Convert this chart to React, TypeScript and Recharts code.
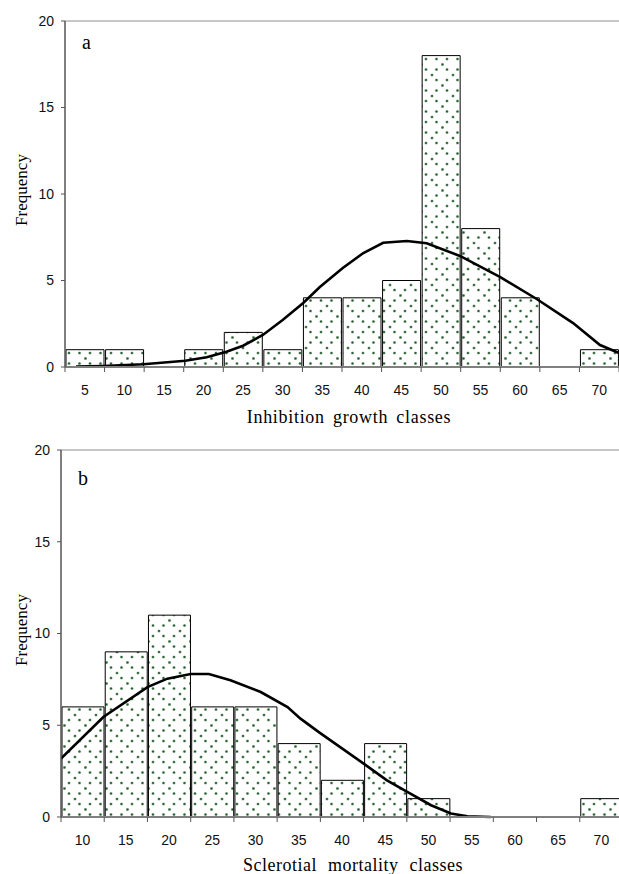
import React from 'react';
import { ComposedChart, Bar, Line, XAxis, YAxis, ReferenceLine } from 'recharts';

// ---- Panel a: Inhibition growth classes ----
const classesA = [5, 10, 15, 20, 25, 30, 35, 40, 45, 50, 55, 60, 65, 70];
const freqA = [1, 1, 0, 1, 2, 1, 4, 4, 5, 18, 8, 4, 0, 1];
const fitXA = [3.9, 7.3, 12.4, 17.7, 20.4, 22.9, 25, 27.5, 30, 32.6, 34.7, 37.6, 40.2, 42.7, 45.7, 48.2, 52.4, 57.5, 62.1, 66.7, 70.1, 72.5];
const fitYA = [0.02, 0.06, 0.16, 0.36, 0.56, 0.88, 1.23, 1.85, 2.72, 3.7, 4.62, 5.72, 6.59, 7.18, 7.28, 7.15, 6.42, 5.2, 3.93, 2.54, 1.27, 0.81];

// ---- Panel b: Sclerotial mortality classes ----
const classesB = [10, 15, 20, 25, 30, 35, 40, 45, 50, 55, 60, 65, 70];
const freqB = [6, 9, 11, 6, 6, 4, 2, 4, 1, 0, 0, 0, 1];
const fitXB = [7.5, 12.4, 17.5, 19.8, 22.5, 24.6, 27.1, 30.6, 33.7, 35.2, 37.4, 42.5, 45.2, 47.6, 50.3, 52.6, 54.5, 57.2];
const fitYB = [3.18, 5.45, 7.08, 7.54, 7.79, 7.79, 7.45, 6.81, 5.99, 5.36, 4.6, 2.91, 2.0, 1.36, 0.64, 0.19, 0.04, 0];

const yTicks = [0, 5, 10, 15, 20];

const SANS = '"Liberation Sans", Arial, Helvetica, sans-serif';
const SERIF = '"Liberation Serif", "Times New Roman", Times, serif';

const DOTS: [number, number][] = [
  [1.5, 1.5],
  [12, 12],
  [6, 6.5],
  [16.5, 6.5],
  [6, 17],
  [16.5, 17],
];

type HistProps = {
  id: string;
  classes: number[];
  freq: number[];
  fitX: number[];
  fitY: number[];
  width: number;
  height: number;
  top: number;
  yAxisWidth: number;
  xAxisHeight: number;
  barSize: number;
  panel: string;
  panelX: number;
  panelY: number;
  xTitle: string;
  xTitleX: number;
  xTitleY: number;
  xTitleSpacing: number;
  xTitleWordSpacing: number;
  yTitleY: number;
};

function Histogram(p: HistProps) {
  const step = p.classes[1] - p.classes[0];
  const bars = p.classes.map((c, i) => ({ cls: c, freq: p.freq[i] }));
  const fit = p.fitX.map((x, i) => ({ cls: x, v: p.fitY[i] }));
  const domain: [number, number] = [p.classes[0] - step / 2, p.classes[p.classes.length - 1] + step / 2];
  const ticks: number[] = [];
  p.classes.forEach((c) => ticks.push(c - step / 2, c));
  ticks.push(domain[1]);

  const XTick = (tp: any) => {
    const v = tp.payload.value;
    if (p.classes.includes(v)) {
      return (
        <text x={tp.x} y={tp.y + 28} textAnchor="middle" fontSize={14} fontFamily={SANS} fill="#111">
          {v}
        </text>
      );
    }
    return <line x1={tp.x} x2={tp.x} y1={tp.y} y2={tp.y + 5} stroke="#555" strokeWidth={1} />;
  };

  return (
    <ComposedChart
      width={p.width}
      height={p.height}
      data={bars}
      margin={{ top: p.top, right: 0, bottom: 0, left: 0 }}
    >
      <defs>
        <pattern id={p.id} x={0} y={0} width={21} height={21} patternUnits="userSpaceOnUse">
          <rect x={0} y={0} width={21} height={21} fill="#ffffff" />
          {DOTS.map(([cx, cy], i) => (
            <g key={i}>
              <circle cx={cx} cy={cy} r={1.6} fill="#9dbb9f" />
              <circle cx={cx} cy={cy} r={1.05} fill="#245c2e" />
            </g>
          ))}
        </pattern>
      </defs>
      <XAxis
        xAxisId="bars"
        type="number"
        dataKey="cls"
        domain={domain}
        ticks={ticks}
        interval={0}
        allowDataOverflow
        height={p.xAxisHeight}
        tickSize={0}
        tickMargin={0}
        tickLine={false}
        tick={XTick}
        axisLine={{ stroke: '#808080', strokeWidth: 2 }}
      />
      <XAxis xAxisId="fit" type="number" dataKey="cls" domain={domain} allowDataOverflow hide />
      <YAxis
        type="number"
        domain={[0, 20]}
        ticks={yTicks}
        interval={0}
        width={p.yAxisWidth}
        tickSize={4}
        tickMargin={7}
        tick={{ fontSize: 14, fill: '#111', fontFamily: SANS }}
        tickLine={{ stroke: '#555' }}
        axisLine={{ stroke: '#555', strokeWidth: 1.5 }}
      />
      <ReferenceLine xAxisId="bars" y={20} stroke="#b5b5b5" strokeWidth={1.5} />
      <Bar
        xAxisId="bars"
        dataKey="freq"
        barSize={p.barSize}
        fill={`url(#${p.id})`}
        stroke="#000"
        strokeWidth={1}
        isAnimationActive={false}
      />
      <Line
        xAxisId="fit"
        data={fit}
        dataKey="v"
        type="linear"
        stroke="#000"
        strokeWidth={2.6}
        dot={false}
        activeDot={false}
        isAnimationActive={false}
      />
      <text x={p.panelX} y={p.panelY} fontSize={20} fontFamily={SERIF} fill="#000">
        {p.panel}
      </text>
      <text
        x={p.xTitleX}
        y={p.xTitleY}
        textAnchor="middle"
        fontSize={18}
        fontFamily={SERIF}
        fill="#000"
        letterSpacing={p.xTitleSpacing}
        wordSpacing={p.xTitleWordSpacing}
      >
        {p.xTitle}
      </text>
      <text
        x={21}
        y={p.yTitleY}
        textAnchor="middle"
        dominantBaseline="central"
        fontSize={17}
        fontFamily={SERIF}
        fill="#000"
        transform={`rotate(-90, 21, ${p.yTitleY})`}
      >
        Frequency
      </text>
    </ComposedChart>
  );
}

export default function App() {
  return (
    <div
      style={{
        position: 'absolute',
        left: 0,
        top: 0,
        width: 619,
        height: 874,
        overflow: 'hidden',
        background: '#fff',
      }}
    >
      <div style={{ position: 'absolute', left: 0, top: 0 }}>
        <Histogram
          id="dotsA"
          classes={classesA}
          freq={freqA}
          fitX={fitXA}
          fitY={fitYA}
          width={619}
          height={430}
          top={21}
          yAxisWidth={65}
          xAxisHeight={63}
          barSize={38}
          panel="a"
          panelX={82}
          panelY={49}
          xTitle="Inhibition growth classes"
          xTitleX={349}
          xTitleY={423}
          xTitleSpacing={0.7}
          xTitleWordSpacing={3}
          yTitleY={190}
        />
      </div>
      <div style={{ position: 'absolute', left: 0, top: 430 }}>
        <Histogram
          id="dotsB"
          classes={classesB}
          freq={freqB}
          fitX={fitXB}
          fitY={fitYB}
          width={623}
          height={444}
          top={20}
          yAxisWidth={61}
          xAxisHeight={57}
          barSize={42}
          panel="b"
          panelX={78}
          panelY={55}
          xTitle="Sclerotial mortality classes"
          xTitleX={353}
          xTitleY={441}
          xTitleSpacing={0.5}
          xTitleWordSpacing={6}
          yTitleY={200}
        />
      </div>
    </div>
  );
}
